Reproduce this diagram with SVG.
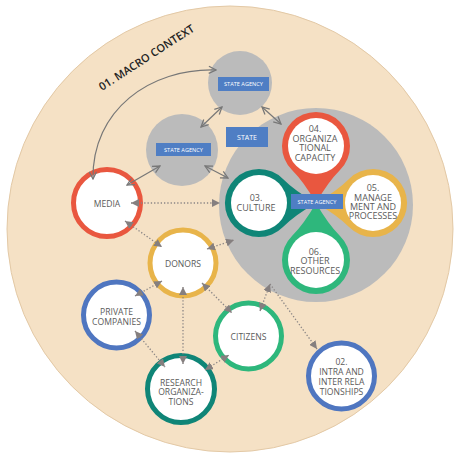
<svg xmlns="http://www.w3.org/2000/svg" width="463" height="457" viewBox="0 0 463 457">
<defs>
<style>
.lbl{font-family:"Open Sans","Liberation Sans",sans-serif;font-size:8.6px;fill:#5a5a5a;text-anchor:middle}
.tl{font-family:"Open Sans","Liberation Sans",sans-serif;font-size:9px;fill:#5a5a5a;text-anchor:middle}
.sa{font-family:"Open Sans","Liberation Sans",sans-serif;font-size:5.6px;fill:#fff;text-anchor:middle}
.st{font-family:"Open Sans","Liberation Sans",sans-serif;font-size:7px;fill:#fff;text-anchor:middle}
.rect{fill:#4f7ec4}
.gray{fill:#bbbbbb}
.ring{fill:#fff;stroke-width:5}
.solid{fill:none;stroke:#777;stroke-width:1.2;marker-start:url(#open);marker-end:url(#open)}
.dot{fill:none;stroke:#8a8585;stroke-width:1.3;stroke-dasharray:1.3 2}
.both{marker-start:url(#tri);marker-end:url(#tri)}
.endm{marker-end:url(#tri)}
</style>
<marker id="open" viewBox="0 0 10 10" refX="9" refY="5" markerWidth="9" markerHeight="9" markerUnits="userSpaceOnUse" orient="auto-start-reverse">
<path d="M1,1 L9,5 L1,9" fill="none" stroke="#777" stroke-width="1.4"/>
</marker>
<marker id="tri" viewBox="0 0 8 8" refX="8" refY="4" markerWidth="8" markerHeight="8" markerUnits="userSpaceOnUse" orient="auto-start-reverse">
<path d="M0,0 L8,4 L0,8 Z" fill="#857f7f"/>
</marker>
<path id="drop" d="M0,0 Q-12,-21 -24,-33 A34,34 0 1 1 24,-33 Q12,-21 0,0 Z"/>
</defs>

<g id="macro-context">
<circle cx="230" cy="229" r="223" fill="#f5e1c5" stroke="#e3c9a6" stroke-width="1"/>
<text x="0" y="0" transform="translate(102,91) rotate(-33)" font-family="'Open Sans','Liberation Sans',sans-serif" font-size="11" font-weight="600" fill="#222">01. MACRO CONTEXT</text>
</g>

<g id="state">
<circle class="gray" cx="316" cy="205" r="97"/>
<rect class="rect" x="226" y="127" width="42" height="20"/>
<text class="st" x="247" y="139.5">STATE</text>
</g>

<g id="state-agency-top">
<circle class="gray" cx="240" cy="83" r="32"/>
<rect class="rect" x="218" y="77" width="51" height="14"/>
<text class="sa" x="243.5" y="86">STATE AGENCY</text>
</g>

<g id="state-agency-left">
<circle class="gray" cx="182" cy="150" r="36"/>
<rect class="rect" x="156" y="143" width="55" height="13"/>
<text class="sa" x="183.5" y="151.5">STATE AGENCY</text>
</g>

<g id="organizational-capacity">
<use href="#drop" transform="translate(316,203)" fill="#e9573f"/>
<circle cx="316" cy="146" r="28" fill="#fff"/>
<text class="tl" x="315" y="131.5">04.</text>
<text class="tl" x="315" y="141.5">ORGANIZA</text>
<text class="tl" x="315" y="151">TIONAL</text>
<text class="tl" x="315" y="160.5">CAPACITY</text>
</g>

<g id="culture">
<use href="#drop" transform="translate(316,203) rotate(270)" fill="#0f8577"/>
<circle cx="259" cy="203" r="28" fill="#fff"/>
<text class="tl" x="256" y="200.5">03.</text>
<text class="tl" x="256" y="210.5">CULTURE</text>
</g>

<g id="management-processes">
<use href="#drop" transform="translate(316,203) rotate(90)" fill="#e8b44a"/>
<circle cx="373" cy="203" r="28" fill="#fff"/>
<text class="tl" x="373" y="190.5">05.</text>
<text class="tl" x="373" y="200.5">MANAGE</text>
<text class="tl" x="373" y="209.5">MENT AND</text>
<text class="tl" x="373" y="219">PROCESSES</text>
</g>

<g id="other-resources">
<use href="#drop" transform="translate(316,203) rotate(180)" fill="#2eb77c"/>
<circle cx="316" cy="260" r="28" fill="#fff"/>
<text class="tl" x="315" y="254.5">06.</text>
<text class="tl" x="315" y="264">OTHER</text>
<text class="tl" x="315" y="273.5">RESOURCES</text>
</g>

<g id="state-agency-center">
<rect class="rect" x="291" y="194" width="52" height="15"/>
<text class="sa" x="317" y="203.5">STATE AGENCY</text>
</g>

<g id="media">
<circle class="ring" cx="107" cy="203" r="33.5" stroke="#e9573f"/>
<text class="lbl" x="107" y="207">MEDIA</text>
</g>

<g id="donors">
<circle class="ring" cx="183" cy="263" r="33" stroke="#e8b44a"/>
<text class="lbl" x="183" y="266.5">DONORS</text>
</g>

<g id="private-companies">
<circle class="ring" cx="116.5" cy="315" r="33" stroke="#4f76c0"/>
<text class="lbl" x="116.5" y="315">PRIVATE</text>
<text class="lbl" x="116.5" y="324.5">COMPANIES</text>
</g>

<g id="research-organizations">
<circle class="ring" cx="181" cy="389" r="33.5" stroke="#0f8577"/>
<text class="lbl" x="181" y="385.5">RESEARCH</text>
<text class="lbl" x="181" y="395">ORGANIZA-</text>
<text class="lbl" x="181" y="404.5">TIONS</text>
</g>

<g id="citizens">
<circle class="ring" cx="248.5" cy="336" r="33" stroke="#2eb77c"/>
<text class="lbl" x="248.5" y="339.5">CITIZENS</text>
</g>

<g id="intra-inter-relationships">
<circle class="ring" cx="341.5" cy="376" r="33" stroke="#4f76c0"/>
<text class="lbl" x="341.5" y="364.5">02.</text>
<text class="lbl" x="341.5" y="374.5">INTRA AND</text>
<text class="lbl" x="341.5" y="384.5">INTER RELA</text>
<text class="lbl" x="341.5" y="394.5">TIONSHIPS</text>
</g>

<g id="connectors">
<path class="solid" d="M93,179 C92,110 150,68 216,70"/>
<path class="solid" d="M222,107 L201,127"/>
<path class="solid" d="M262,107 L281,124"/>
<path class="solid" d="M205,166 L228,178"/>
<path class="solid" d="M127,185 L160,166"/>
<path class="dot both" d="M131,203 L220,203"/>
<path class="dot both" d="M125,221 L162,247"/>
<path class="dot both" d="M207,249 L234,240"/>
<path class="dot both" d="M135,296 L162,281"/>
<path class="dot both" d="M183,287 L183,364"/>
<path class="dot both" d="M202,283 L232,313"/>
<path class="dot both" d="M135,331 L165,367"/>
<path class="dot both" d="M205,370 L229,355"/>
<path class="dot both" d="M260,311 L270,284"/>
<path class="dot endm" d="M270,284 L317,349"/>
</g>
</svg>
